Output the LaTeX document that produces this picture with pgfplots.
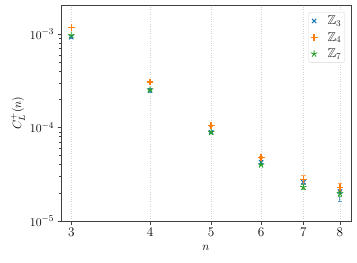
\documentclass[border=0pt]{standalone}
\usepackage{pgfplots}
\usepackage{amssymb}
\pgfplotsset{compat=1.18}
\definecolor{cA}{HTML}{1F77B4}
\definecolor{cB}{HTML}{FF7F0E}
\definecolor{cC}{HTML}{2CA02C}
\definecolor{spine}{HTML}{404040}
\definecolor{eA}{HTML}{5B9BCB}
\definecolor{eB}{HTML}{FFA25A}
\definecolor{eC}{HTML}{6BBD6B}
\pgfplotsset{myleg/.style={legend image code/.code={\draw[mark repeat=2,mark phase=2,##1] plot coordinates {(0pt,0pt) (4.5pt,0pt) (9pt,0pt)};}}}
\begin{document}
\begin{tikzpicture}
\begin{axis}[
  at={(0,0)}, anchor=south west,
  scale only axis, width=290pt, height=216pt,
  xmode=log, ymode=log,
  xmin=2.89, xmax=8.33, ymin=1e-5, ymax=2.05e-3,
  xtick={3,4,5,6,7,8}, xticklabels={3,4,5,6,7,8},
  minor xtick={},
  ytick={1e-5,1e-4,1e-3},
  yticklabels={$10^{-5}$,$10^{-4}$,$10^{-3}$},
  tick align=outside, tick pos=left,
  major tick length=3.5pt, minor tick length=2pt,
  every tick/.style={spine, line width=0.6pt},
  axis line style={spine, line width=0.8pt},
  xmajorgrids, ymajorgrids=false,
  x grid style={gray!35, dotted, line width=0.7pt},
  tick label style={font=\fontsize{13.2}{15}\selectfont},
  xlabel={$n$}, ylabel={$C_L^+(n)$},
  every axis x label/.style={at={(axis description cs:0.5,0)}, yshift=-27pt, anchor=center, font=\fontsize{13.2}{15}\selectfont},
  every axis y label/.style={at={(axis description cs:0,0.5)}, xshift=-43pt, rotate=90, anchor=center, font=\fontsize{13.2}{15}\selectfont},
  legend style={at={(1,1)}, anchor=north east, xshift=-6pt, yshift=-7pt,
    draw=gray!30, rounded corners=2.5pt, font=\fontsize{13}{15}\selectfont,
    row sep=3pt, inner xsep=2pt, inner ysep=2pt,
    nodes={inner sep=1.5pt, text=black!85},
    /tikz/every odd column/.append style={column sep=8.5pt}},
  legend cell align=left,
]
\addplot[only marks, myleg, mark=x, mark size=3pt, draw=cA, line width=1.1pt,
  mark options={draw=cA, solid},
  error bars/.cd, y dir=both, y explicit,
  error bar style={draw=eA, line width=0.9pt},
  error mark options={draw=eA, rotate=90, mark size=2.2pt, line width=0.9pt}]
  table[x=n, y=v, y error=e] {
n v e
3 9.3e-4 4e-5
4 2.5e-4 1e-5
5 8.9e-5 3e-6
6 4.25e-5 1.5e-6
7 2.6e-5 4.5e-6
8 2.07e-5 4.5e-6
};
\addlegendentry{$\mathbb{Z}_3$}
\addplot[only marks, myleg, mark=+, mark size=3.4pt, draw=cB, line width=1.4pt,
  mark options={draw=cB, solid},
  error bars/.cd, y dir=both, y explicit,
  error bar style={draw=eB, line width=0.9pt},
  error mark options={draw=eB, rotate=90, mark size=2.2pt, line width=0.9pt}]
  table[x=n, y=v, y error=e] {
n v e
3 1.18e-3 1e-5
4 3.07e-4 3e-6
5 1.05e-4 1e-6
6 4.8e-5 1.5e-6
7 2.8e-5 2.5e-6
8 2.3e-5 2.5e-6
};
\addlegendentry{$\mathbb{Z}_4$}
\addplot[only marks, myleg, mark=star, mark size=3.4pt, draw=cC, line width=0.9pt,
  mark options={draw=cC, fill=cC, solid},
  error bars/.cd, y dir=both, y explicit,
  error bar style={draw=eC, line width=0.9pt},
  error mark options={draw=eC, rotate=90, mark size=2.2pt, line width=0.9pt}]
  table[x=n, y=v, y error=e] {
n v e
3 9.7e-4 1e-5
4 2.54e-4 3e-6
5 8.9e-5 1e-6
6 4.0e-5 1e-6
7 2.3e-5 1.5e-6
8 1.97e-5 1.5e-6
};
\addlegendentry{$\mathbb{Z}_7$}
\end{axis}
\pgfresetboundingbox
\useasboundingbox (-61pt,-42pt) rectangle (296pt,221pt);
\end{tikzpicture}
\end{document}
